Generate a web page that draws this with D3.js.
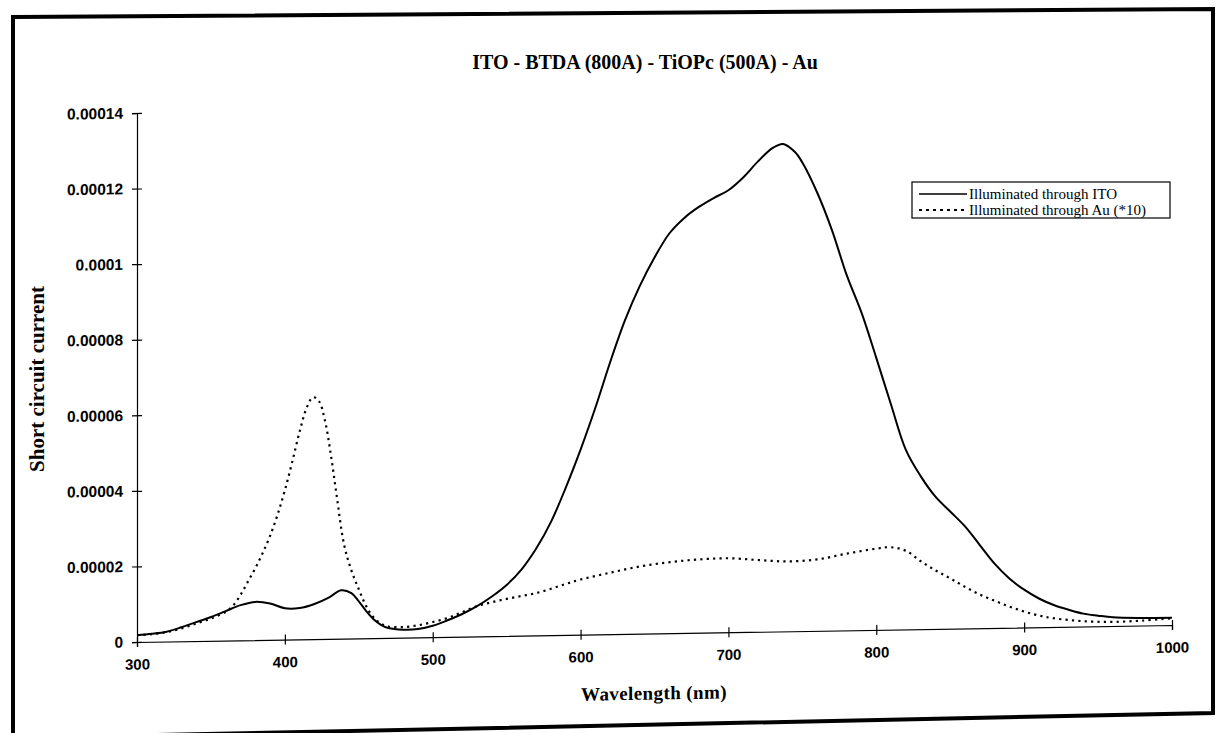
<!DOCTYPE html>
<html>
<head>
<meta charset="utf-8">
<script src="https://cdn.jsdelivr.net/npm/d3@7"></script>
<style>
  html, body { margin: 0; padding: 0; background: #fff; }
  svg { display: block; }
</style>
</head>
<body>
<svg id="chart" width="1220" height="733"></svg>
<script>
// ---------- data ----------
const chartTitle = "ITO - BTDA (800A) - TiOPc (500A) - Au";
const xTitle = "Wavelength (nm)";
const yTitle = "Short circuit current";
const seriesNames = ["Illuminated through ITO", "Illuminated through Au (*10)"];

const xTicks = [300, 400, 500, 600, 700, 800, 900, 1000];
const yTicks = [0, 0.00002, 0.00004, 0.00006, 0.00008, 0.0001, 0.00012, 0.00014];
const yTickLabels = ["0", "0.00002", "0.00004", "0.00006", "0.00008", "0.0001", "0.00012", "0.00014"];

const itoWavelength = [300,310,320,330,340,350,360,370,380,390,400,410,420,430,438,445,450,455,460,465,470,480,490,500,510,520,530,540,550,560,570,580,590,600,610,620,630,640,650,660,670,680,690,700,710,720,730,737,745,750,760,770,780,790,800,810,820,830,840,850,860,870,880,890,900,910,920,930,940,950,960,980,1000];
const itoCurrent = [1.8e-6,2.1e-6,2.6e-6,3.7e-6,5.0e-6,6.3e-6,7.8e-6,9.3e-6,1.01e-5,9.6e-6,8.3e-6,8.3e-6,9.3e-6,1.1e-5,1.28e-5,1.2e-5,9.8e-6,7.2e-6,5.0e-6,3.5e-6,2.6e-6,2.1e-6,2.2e-6,3.0e-6,4.4e-6,6.0e-6,8.0e-6,1.05e-5,1.35e-5,1.75e-5,2.3e-5,3.0e-5,3.9e-5,4.9e-5,6.0e-5,7.2e-5,8.3e-5,9.2e-5,9.95e-5,1.058e-4,1.098e-4,1.127e-4,1.15e-4,1.17e-4,1.203e-4,1.245e-4,1.28e-4,1.29e-4,1.268e-4,1.24e-4,1.16e-4,1.06e-4,9.4e-5,8.4e-5,7.2e-5,5.95e-5,4.75e-5,4.05e-5,3.5e-5,3.1e-5,2.7e-5,2.2e-5,1.7e-5,1.3e-5,1.0e-5,7.6e-6,5.8e-6,4.5e-6,3.4e-6,2.8e-6,2.3e-6,2.0e-6,1.9e-6];

const auWavelength = [300,310,320,330,340,350,360,365,370,375,380,385,390,395,400,405,410,415,419,423,427,431,435,440,445,450,455,460,465,470,480,490,500,510,520,530,540,550,560,570,580,590,600,620,640,660,680,700,720,740,760,780,800,810,820,830,840,850,860,870,880,890,900,910,920,940,960,980,1000];
const auCurrent = [1.8e-6,2.0e-6,2.5e-6,3.4e-6,4.6e-6,5.9e-6,7.6e-6,9.2e-6,1.2e-5,1.55e-5,1.9e-5,2.3e-5,2.75e-5,3.3e-5,3.95e-5,4.7e-5,5.5e-5,6.15e-5,6.4e-5,6.3e-5,5.8e-5,4.9e-5,3.8e-5,2.5e-5,1.8e-5,1.3e-5,8.5e-6,5.5e-6,3.8e-6,3.0e-6,2.8e-6,3.2e-6,4.0e-6,5.0e-6,6.5e-6,8.0e-6,9.0e-6,9.8e-6,1.05e-5,1.12e-5,1.23e-5,1.35e-5,1.46e-5,1.63e-5,1.78e-5,1.88e-5,1.94e-5,1.96e-5,1.9e-5,1.85e-5,1.89e-5,2.03e-5,2.15e-5,2.18e-5,2.08e-5,1.8e-5,1.55e-5,1.33e-5,1.1e-5,8.9e-6,7.2e-6,5.6e-6,4.2e-6,3.1e-6,2.3e-6,1.4e-6,1.1e-6,1.3e-6,1.8e-6];

// ---------- layout ----------
const svg = d3.select("#chart");
const x = d3.scaleLinear().domain([300, 1000]).range([137, 1172]);
const y = d3.scaleLinear().domain([0, 0.00014]).range([642, 113]);
const tilt = -Math.atan(0.0164) * 180 / Math.PI; // scanned page: x axis slopes slightly

// outer frame (scanned sheet border)
svg.append("path")
  .attr("d", "M13,17 L1213,9 L1213,713 L13,738 Z")
  .attr("fill", "none").attr("stroke", "#000").attr("stroke-width", 4);

// title
svg.append("text")
  .attr("x", 645).attr("y", 69)
  .attr("text-anchor", "middle")
  .attr("font-family", "'Liberation Serif', 'Times New Roman', serif")
  .attr("font-weight", "bold").attr("font-size", 20)
  .text(chartTitle);

// y title
svg.append("text")
  .attr("transform", "translate(44,379) rotate(-90)")
  .attr("text-anchor", "middle")
  .attr("font-family", "'Liberation Serif', 'Times New Roman', serif")
  .attr("font-weight", "bold").attr("font-size", 21)
  .text(yTitle);

const plot = svg.append("g")
  .attr("transform", `translate(137,642) skewY(${tilt}) translate(-137,-642)`);

// x axis
const xAxis = plot.append("g")
  .attr("transform", `translate(0,${y(0)})`)
  .call(d3.axisBottom(x).tickValues(xTicks).tickFormat(d3.format("d")).tickSizeOuter(0).tickSize(5).tickPadding(12));
xAxis.select(".domain").attr("stroke-width", 1.2);
xAxis.selectAll(".tick line").attr("y1", -5).attr("y2", 5).attr("stroke-width", 1.2);
xAxis.selectAll(".tick text")
  .attr("font-family", "'Liberation Sans', Arial, sans-serif")
  .attr("font-weight", "bold").attr("font-size", 15).attr("fill", "#000");

// y axis
const yAxis = plot.append("g")
  .attr("transform", `translate(${x(300)},0)`)
  .call(d3.axisLeft(y).tickValues(yTicks).tickFormat((d, i) => yTickLabels[i]).tickSizeOuter(0).tickSize(5).tickPadding(9));
yAxis.select(".domain").attr("stroke-width", 1.2);
yAxis.selectAll(".tick line").attr("x1", -5).attr("x2", 5).attr("stroke-width", 1.2);
yAxis.selectAll(".tick text")
  .attr("font-family", "'Liberation Sans', Arial, sans-serif")
  .attr("font-weight", "bold").attr("font-size", 15.5).attr("fill", "#000");

// x title
plot.append("text")
  .attr("x", 654).attr("y", 708)
  .attr("text-anchor", "middle")
  .attr("font-family", "'Liberation Serif', 'Times New Roman', serif")
  .attr("font-weight", "bold").attr("font-size", 19)
  .attr("letter-spacing", 0.4)
  .text(xTitle);

// lines
const line = d3.line().curve(d3.curveCatmullRom.alpha(0.5))
  .x(d => x(d[0])).y(d => y(d[1]));

const auData = auWavelength.map((w, i) => [w, auCurrent[i]]);
const itoData = itoWavelength.map((w, i) => [w, itoCurrent[i]]);

plot.append("path").datum(auData)
  .attr("d", line).attr("fill", "none")
  .attr("stroke", "#000").attr("stroke-width", 2.2)
  .attr("stroke-dasharray", "2.2,4.2");

plot.append("path").datum(itoData)
  .attr("d", line).attr("fill", "none")
  .attr("stroke", "#000").attr("stroke-width", 2);

// legend
const lg = svg.append("g");
lg.append("rect").attr("x", 912).attr("y", 182).attr("width", 258).attr("height", 36)
  .attr("fill", "#fff").attr("stroke", "#000").attr("stroke-width", 1.2);
const legendItems = [
  { name: seriesNames[0], dash: null, y: 194 },
  { name: seriesNames[1], dash: "3,4", y: 210 }
];
legendItems.forEach(it => {
  lg.append("line").attr("x1", 919).attr("x2", 967).attr("y1", it.y).attr("y2", it.y)
    .attr("stroke", "#000").attr("stroke-width", it.dash ? 2 : 1.6)
    .attr("stroke-dasharray", it.dash);
  lg.append("text").attr("x", 969).attr("y", it.y + 5)
    .attr("font-family", "'Liberation Serif', 'Times New Roman', serif")
    .attr("font-size", 15)
    .text(it.name);
});
</script>
</body>
</html>
